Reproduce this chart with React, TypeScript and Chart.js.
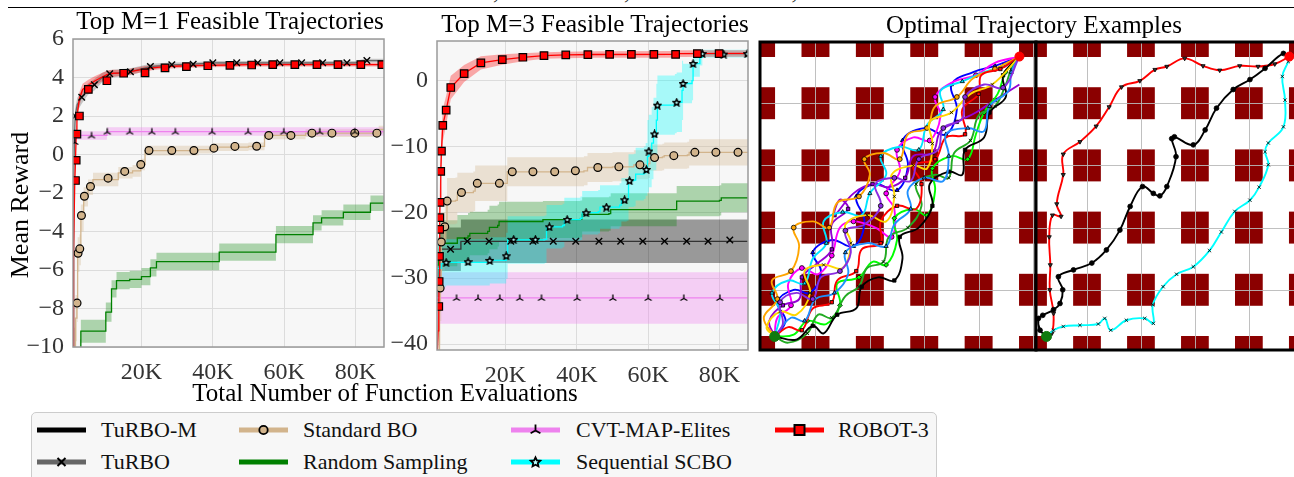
import React, { useEffect, useRef } from "react";
import { Chart, registerables } from "chart.js";

Chart.register(...registerables);

const SERIF = '"Liberation Serif", "Times New Roman", Times, serif';

// ---------- colours ----------
const C_ROBOT = "#ff0000";
const C_TURBO = "#666666";
const C_TURBOM = "#000000";
const C_SBO = "#d2b48c";
const C_RAND = "#008000";
const C_CVT = "#ee82ee";
const C_SCBO = "#00ffff";

// ---------- shared x axis ----------
const X_MIN = 800;
const X_MAX = 88000;
const X_TICKS = [20000, 40000, 60000, 80000];

// ---------- Top M=1 panel ----------
const M1_Y_MIN = -10;
const M1_Y_MAX = 6;
const M1_Y_TICKS = [-10, -8, -6, -4, -2, 0, 2, 4, 6];

const M1_ROBOT_X = [800, 950, 1300, 1500, 1700, 1900, 2600, 3500, 5100, 7000, 10300, 12000, 15000, 21000, 23000, 26600, 32600, 38800, 45000, 50000, 88000];
const M1_ROBOT_Y = [-10.5, -5, -1.35, -0.3, 1.06, 2.0, 2.9, 3.38, 3.6, 3.83, 4.15, 4.22, 4.24, 4.45, 4.5, 4.57, 4.61, 4.63, 4.65, 4.67, 4.67];
const M1_ROBOT_SD = [1, 1, 0.6, 0.5, 0.45, 0.4, 0.35, 0.3, 0.28, 0.25, 0.2, 0.18, 0.15, 0.15, 0.12, 0.12, 0.1, 0.1, 0.1, 0.1, 0.1];
const M1_ROBOT_MX = [1500, 1700, 1900, 2600, 5100, 10300, 15000, 21000, 26600, 32600, 38600, 44800, 50900, 56800, 63000, 69200, 75100, 81500, 87400];
const M1_ROBOT_MY = [-1.35, -0.3, 1.06, 2.0, 3.38, 3.83, 4.22, 4.24, 4.5, 4.57, 4.61, 4.63, 4.65, 4.67, 4.67, 4.67, 4.67, 4.67, 4.67];

const M1_TURBO_X = [800, 1000, 1400, 2000, 3250, 5000, 6800, 9000, 11100, 16900, 22500, 28500, 34500, 40000, 80000, 82500, 88000];
const M1_TURBO_Y = [-10.5, -1, 2.0, 2.6, 2.98, 3.4, 3.62, 4.0, 4.19, 4.3, 4.57, 4.66, 4.69, 4.76, 4.76, 4.88, 4.88];
const M1_TURBO_SD = [1, 0.5, 0.4, 0.35, 0.35, 0.3, 0.3, 0.25, 0.2, 0.18, 0.15, 0.12, 0.1, 0.1, 0.1, 0.1, 0.1];
const M1_TURBO_MX = [1400, 3250, 6800, 11100, 16900, 22500, 28500, 34500, 40000, 46700, 52600, 58800, 64900, 70800, 77600, 83200];
const M1_TURBO_MY = [2.0, 2.98, 3.62, 4.19, 4.3, 4.57, 4.66, 4.69, 4.76, 4.76, 4.76, 4.76, 4.76, 4.76, 4.76, 4.88];

const M1_CVT_X = [800, 1500, 10300, 88000];
const M1_CVT_Y = [0.65, 0.99, 1.19, 1.19];
const M1_CVT_SD = [0.3, 0.22, 0.22, 0.22];
const M1_CVT_MX = [1300, 6000, 10400, 16700, 22900, 29500, 39800, 49900, 59900, 70000, 79800];
const M1_CVT_MY = [0.65, 0.99, 1.19, 1.19, 1.19, 1.19, 1.19, 1.19, 1.19, 1.19, 1.19];

const M1_SBO_X = [900, 1500, 1900, 2100, 2600, 3000, 3800, 5000, 6400, 13500, 17500, 19800, 21000, 36000, 40000, 50000, 54500, 66000, 86500, 88000];
const M1_SBO_Y = [-10.5, -8.5, -7.7, -5.2, -4.95, -3.3, -2.2, -1.7, -1.3, -0.95, -0.85, -0.52, 0.2, 0.25, 0.38, 0.42, 0.99, 1.11, 1.3, 1.3];
const M1_SBO_SD = [1.5, 1.2, 1.0, 0.9, 0.8, 0.7, 0.5, 0.4, 0.35, 0.3, 0.3, 0.3, 0.25, 0.2, 0.2, 0.2, 0.2, 0.2, 0.2, 0.2];
const M1_SBO_MX = [1940, 2220, 2700, 3170, 4000, 5700, 10630, 15300, 19800, 22100, 28500, 34700, 40300, 46200, 52300, 55700, 61900, 67800, 73400, 79800, 86000];
const M1_SBO_MY = [-7.72, -5.13, -4.9, -3.17, -2.17, -1.66, -1.23, -0.88, -0.52, 0.21, 0.21, 0.21, 0.33, 0.42, 0.43, 0.99, 0.99, 1.11, 1.11, 1.11, 1.11];

const M1_RAND_X = [2700, 3000, 10000, 11600, 13000, 16700, 20000, 22500, 24200, 41800, 57700, 68100, 70500, 76600, 84200, 88000];
const M1_RAND_Y = [-10.5, -9.18, -8.19, -6.98, -6.55, -6.49, -6.34, -5.89, -5.56, -5.07, -4.16, -3.55, -3.29, -3.0, -2.53, -2.53];
const M1_RAND_SD = [0.9, 0.6, 0.5, 0.45, 0.45, 0.45, 0.45, 0.45, 0.45, 0.45, 0.45, 0.4, 0.4, 0.4, 0.4, 0.4];

// ---------- Top M=3 panel ----------
const M3_Y_MIN = -40.9;
const M3_Y_MAX = 6;
const M3_Y_TICKS = [-40, -30, -20, -10, 0];

const M3_ROBOT_X = [800, 1100, 1300, 1400, 1500, 1550, 1600, 1650, 1850, 2050, 2420, 3370, 4660, 8410, 13100, 19100, 24870, 30800, 36900, 45000, 67000, 68000, 88000];
const M3_ROBOT_Y = [-42, -38, -34.3, -30.5, -26.7, -22.6, -20.8, -18.5, -13.8, -10.7, -6.8, -4.5, -1.06, 1.06, 2.67, 3.18, 3.53, 3.79, 3.88, 3.95, 3.97, 4.09, 4.1];
const M3_ROBOT_SD = [4, 4, 3.5, 3.5, 3.5, 3.5, 3.5, 3.5, 3.0, 2.8, 2.5, 2.2, 1.8, 1.3, 1.0, 0.8, 0.6, 0.5, 0.5, 0.5, 0.5, 0.5, 0.5];
const M3_ROBOT_MX = [1300, 1400, 1500, 1550, 1600, 1650, 1850, 2050, 2420, 3370, 4660, 8410, 13100, 19100, 24870, 30800, 36900, 43100, 49200, 55300, 61600, 67700, 73800, 79900];
const M3_ROBOT_MY = [-34.3, -30.5, -26.7, -22.6, -20.8, -18.5, -13.8, -10.7, -6.8, -4.5, -1.06, 1.06, 2.67, 3.18, 3.53, 3.79, 3.88, 3.94, 3.96, 3.96, 3.96, 3.96, 4.09, 4.09];

const M3_SCBO_X = [900, 2000, 3300, 15600, 20200, 20600, 31000, 31500, 36000, 36500, 41000, 41500, 46000, 46500, 52000, 52500, 54000, 54500, 56000, 56500, 58800, 59300, 59800, 60200, 61000, 61500, 62300, 62600, 67500, 68000, 69500, 69800, 72300, 72600, 74500, 75200, 88000];
const M3_SCBO_Y = [-28.5, -27.8, -27.6, -27.3, -26.6, -24.2, -24.1, -22.2, -22.0, -21.1, -20.9, -20.06, -19.9, -19.2, -18.9, -18.1, -18.0, -15.2, -15.1, -14.2, -14.0, -13.5, -11.5, -10.7, -9.5, -8.1, -6.0, -3.74, -3.5, -3.3, -1.5, -0.45, 0.0, 2.58, 3.5, 4.09, 4.1];
const M3_SCBO_SD = [3.5, 3.5, 3.5, 3.5, 3.5, 3.6, 3.6, 3.3, 3.3, 3.3, 3.3, 3.3, 3.3, 3.3, 3.3, 3.3, 3.3, 4, 4, 4, 4, 4, 5.5, 5.5, 5.5, 5.5, 5.5, 4.5, 4.5, 4.5, 4.5, 3, 3, 2, 1.2, 0.6, 0.6];
const M3_SCBO_MX = [3370, 9500, 15600, 20200, 22300, 28400, 32300, 37300, 42600, 48300, 53400, 54800, 59500, 60200, 61800, 62600, 68000, 69800, 72600, 75200, 81200, 87800];
const M3_SCBO_MY = [-27.6, -27.5, -27.3, -26.6, -24.1, -24.1, -22.2, -21.1, -20.06, -19.2, -18.1, -15.2, -13.5, -10.7, -8.1, -3.74, -3.3, -0.45, 2.58, 4.09, 4.0, 4.09];

const M3_SBO_X = [800, 1500, 1700, 2000, 3000, 3600, 6000, 6500, 11000, 11500, 20000, 20500, 42000, 43000, 50000, 56000, 60000, 60500, 64000, 64500, 71000, 71500, 88000];
const M3_SBO_Y = [-42, -35, -31.5, -24.5, -22.2, -18.3, -18.2, -17.0, -16.8, -15.6, -15.6, -13.85, -13.7, -13.2, -13.1, -12.8, -12.6, -11.7, -11.6, -11.4, -11.3, -10.9, -10.9];
const M3_SBO_SD = [5, 5, 5, 4.5, 4, 3.5, 3.5, 3, 3, 2.7, 2.7, 2.2, 2.2, 2.2, 2.2, 2.2, 2.2, 2, 2, 2, 2, 2, 2];
const M3_SBO_MX = [1680, 2000, 2980, 3640, 7660, 12100, 18300, 21900, 27700, 33800, 39600, 45900, 51800, 57700, 61800, 67200, 73100, 79000, 85200];
const M3_SBO_MY = [-31.5, -24.5, -22.2, -18.3, -17.0, -15.6, -15.6, -13.85, -13.85, -13.85, -13.7, -13.2, -13.1, -12.8, -11.7, -11.4, -10.9, -10.9, -10.9];

const M3_RAND_X = [900, 1200, 1600, 6000, 6500, 9500, 10000, 15000, 15500, 17800, 18200, 30300, 30500, 41000, 41500, 49000, 49500, 67600, 68000, 80000, 80500, 88000];
const M3_RAND_Y = [-28, -27.2, -24.7, -24.7, -23.9, -23.6, -23.2, -22.9, -22.3, -22.0, -21.4, -21.4, -21.1, -21.0, -20.3, -20.2, -19.6, -19.6, -18.3, -18.2, -17.8, -17.8];
const M3_RAND_SD = [3.5, 3.5, 3.5, 3.5, 3.5, 3.5, 3.3, 3.3, 3.3, 3.2, 3.0, 3.0, 2.8, 2.8, 2.6, 2.6, 2.5, 2.5, 2.3, 2.3, 2.2, 2.2];

const M3_TURBO_X = [800, 1500, 2500, 7000, 7500, 88000];
const M3_TURBO_Y = [-30, -25.6, -25.6, -25.6, -24.4, -24.3];
const M3_TURBO_SD = [3.5, 3.3, 3.3, 3.3, 3.3, 3.3];
const M3_TURBO_MX = [4600, 9300, 15400, 21500, 27700, 33400, 39700, 46200, 52300, 58500, 64600, 70800, 76800, 82900];
const M3_TURBO_MY = [-25.6, -24.4, -24.4, -24.4, -24.4, -24.4, -24.4, -24.4, -24.4, -24.4, -24.4, -24.4, -24.4, -24.2];

const M3_CVT_X = [800, 88000];
const M3_CVT_Y = [-33, -33];
const M3_CVT_SD = [3.9, 3.9];
const M3_CVT_MX = [6270, 12300, 18400, 24000, 30100, 40100, 50100, 60000, 70000, 80100];
const M3_CVT_MY = [-33, -33, -33, -33, -33, -33, -33, -33, -33, -33];

// ---------- trajectory maps ----------
const MAP_Y_MIN = 0.032;
const MAP_Y_MAX = 4.984;
const MAPL_X_MIN = -0.02;
const MAPL_X_MAX = 5.055;
const MAPR_X_MIN = 0.055;
const MAPR_X_MAX = 5.17;
const OBST_COLS = [0, 1, 2, 3, 4, 5, 6];
const OBST_ROWS = [0, 1, 2, 3, 4, 5];
const OBST_HALF = 0.257;
const GRID_LINES = [1, 2, 3, 4, 5, 6];
const START_PT = [0.25, 0.25];
const GOAL_PT = [4.75, 4.75];

const LEFT_TRAJ_COLORS = ["#0000ff", "#ff00ff", "#9400d3", "#00ff00", "#22aa22", "#00e5ff", "#ffa500", "#ff0000", "#000000", "#ffd700", "#1e90ff", "#8a2be2"];
const LEFT_TRAJ_MARKERS = ["triangle", "circle", "rect", "rectRot", "crossRot", "triangle", "circle", "rect", "rect", "crossRot", "triangle", "circle"];
const LEFT_TRAJ = [
  [[0.25, 0.25], [0.45, 0.5], [0.3, 0.8], [0.6, 1.0], [0.9, 0.95], [1.1, 1.3], [0.95, 1.6], [1.3, 1.8], [1.7, 1.7], [1.9, 2.1], [1.75, 2.5], [2.1, 2.7], [2.5, 2.6], [2.7, 3.0], [2.6, 3.4], [3.0, 3.6], [3.4, 3.5], [3.6, 3.9], [3.5, 4.3], [3.9, 4.5], [4.3, 4.6], [4.75, 4.75]],
  [[0.25, 0.25], [0.3, 0.55], [0.55, 0.75], [0.5, 1.1], [0.75, 1.35], [1.05, 1.25], [1.3, 1.55], [1.45, 2.0], [1.7, 2.1], [2.1, 2.0], [2.4, 1.85], [2.45, 2.3], [2.3, 2.55], [2.55, 2.9], [2.5, 3.25], [2.8, 3.45], [3.1, 3.4], [3.3, 3.8], [3.2, 4.1], [3.55, 4.35], [3.95, 4.45], [4.3, 4.65], [4.75, 4.75]],
  [[0.25, 0.25], [0.15, 0.5], [0.4, 0.75], [0.7, 0.85], [0.75, 1.2], [1.0, 1.4], [1.3, 1.65], [1.3, 2.05], [1.6, 2.3], [1.45, 2.45], [1.35, 2.2], [1.7, 2.55], [2.05, 2.7], [2.35, 2.65], [2.65, 2.8], [2.8, 3.15], [3.15, 3.2], [3.3, 3.55], [3.6, 3.7], [3.95, 3.85], [4.3, 4.05], [4.75, 4.3]],
  [[0.25, 0.25], [0.6, 0.28], [0.85, 0.5], [1.2, 0.45], [1.45, 0.75], [1.4, 1.1], [1.8, 1.2], [2.05, 1.45], [2.3, 1.4], [2.5, 1.8], [2.45, 2.15], [2.8, 2.3], [3.05, 2.2], [3.2, 2.6], [3.15, 2.95], [3.5, 3.15], [3.8, 3.1], [3.95, 3.5], [4.1, 3.85], [4.35, 4.15], [4.5, 4.5], [4.75, 4.75]],
  [[0.25, 0.25], [0.5, 0.15], [0.85, 0.3], [1.05, 0.6], [1.3, 0.55], [1.55, 0.9], [1.8, 1.05], [1.95, 1.35], [2.25, 1.45], [2.35, 1.85], [2.7, 2.0], [2.95, 2.35], [2.85, 2.7], [3.2, 2.85], [3.45, 2.8], [3.55, 3.2], [3.85, 3.4], [4.0, 3.8], [4.3, 3.95], [4.5, 4.3], [4.6, 4.55], [4.75, 4.75]],
  [[0.25, 0.25], [0.35, 0.65], [0.2, 0.95], [0.5, 1.15], [0.8, 1.1], [0.95, 1.5], [1.2, 1.75], [1.15, 2.1], [1.5, 2.25], [1.85, 2.2], [2.0, 2.55], [2.3, 2.85], [2.2, 3.15], [2.55, 3.3], [2.9, 3.25], [3.05, 3.65], [3.35, 3.9], [3.3, 4.2], [3.7, 4.35], [4.1, 4.5], [4.45, 4.6], [4.75, 4.75]],
  [[0.25, 0.25], [0.05, 0.55], [0.3, 0.85], [0.2, 1.15], [0.55, 1.3], [0.7, 1.7], [0.6, 2.0], [0.95, 2.1], [1.25, 2.0], [1.4, 2.4], [1.8, 2.5], [2.0, 2.85], [1.9, 3.1], [2.25, 3.2], [2.55, 3.1], [2.7, 3.5], [3.05, 3.6], [3.2, 3.95], [3.6, 4.1], [3.9, 4.4], [4.3, 4.55], [4.75, 4.75]],
  [[0.25, 0.25], [0.5, 0.4], [0.75, 0.35], [0.95, 0.7], [1.3, 0.8], [1.4, 1.15], [1.75, 1.3], [1.85, 1.65], [2.2, 1.75], [2.2, 2.1], [2.5, 2.35], [2.85, 2.3], [2.95, 2.7], [2.8, 3.0], [3.2, 3.1], [3.4, 3.45], [3.75, 3.5], [3.7, 3.9], [4.0, 4.15], [4.05, 4.45], [4.4, 4.55], [4.75, 4.75]],
  [[0.25, 0.25], [0.65, 0.2], [0.95, 0.42], [1.15, 0.3], [1.4, 0.6], [1.75, 0.7], [1.85, 1.05], [2.15, 1.2], [2.45, 1.15], [2.6, 1.5], [2.55, 1.85], [2.9, 2.0], [3.15, 2.35], [3.1, 2.7], [3.45, 2.9], [3.7, 2.85], [3.75, 3.25], [4.1, 3.45], [4.2, 3.85], [4.5, 4.1], [4.45, 4.45], [4.75, 4.75]],
  [[0.25, 0.25], [0.1, 0.4], [0.35, 0.65], [0.65, 0.6], [0.9, 0.95], [0.8, 1.3], [1.15, 1.4], [1.5, 1.35], [1.65, 1.75], [1.55, 2.05], [1.95, 2.2], [2.3, 2.1], [2.45, 2.5], [2.4, 2.85], [2.8, 3.0], [3.05, 2.95], [3.15, 3.35], [3.1, 3.7], [3.5, 3.85], [3.85, 4.15], [4.25, 4.3], [4.75, 4.75]],
  [[0.25, 0.25], [0.55, 0.55], [0.8, 0.5], [1.0, 0.85], [1.35, 0.95], [1.6, 1.25], [1.55, 1.6], [1.95, 1.75], [2.3, 1.7], [2.45, 2.05], [2.75, 2.3], [2.7, 2.6], [3.0, 2.8], [3.35, 2.75], [3.45, 3.15], [3.4, 3.5], [3.8, 3.6], [4.1, 3.55], [4.2, 3.95], [4.55, 4.2], [4.6, 4.5], [4.75, 4.75]],
  [[0.25, 0.25], [0.4, 0.45], [0.35, 0.8], [0.65, 0.95], [0.95, 0.85], [1.1, 1.2], [1.45, 1.3], [1.65, 1.6], [1.55, 1.95], [1.9, 2.05], [2.2, 2.35], [2.1, 2.7], [2.45, 2.8], [2.75, 2.75], [2.9, 3.1], [3.25, 3.25], [3.35, 3.6], [3.7, 3.75], [3.75, 4.1], [4.1, 4.3], [4.45, 4.25], [4.75, 4.75]],
];

const RIGHT_RED = [[0.25, 0.25], [0.35, 0.3], [0.38, 0.62], [0.31, 1.0], [0.32, 1.4], [0.3, 1.85], [0.36, 2.2], [0.52, 2.18], [0.44, 2.38], [0.56, 2.85], [0.56, 3.18], [0.87, 3.38], [1.17, 3.63], [1.41, 3.94], [1.64, 4.26], [1.98, 4.36], [2.26, 4.54], [2.48, 4.59], [2.81, 4.72], [3.15, 4.6], [3.46, 4.53], [3.83, 4.6], [4.17, 4.59], [4.48, 4.63], [4.75, 4.75]];
const RIGHT_BLACK = [[0.25, 0.25], [0.13, 0.35], [0.1, 0.54], [0.18, 0.59], [0.38, 0.68], [0.5, 0.78], [0.55, 1.0], [0.47, 1.21], [0.75, 1.32], [1.09, 1.43], [1.36, 1.64], [1.61, 1.96], [1.8, 2.34], [2.03, 2.66], [2.23, 2.55], [2.35, 2.51], [2.48, 2.66], [2.65, 3.14], [2.57, 3.43], [2.62, 3.46], [2.97, 3.33], [3.19, 3.57], [3.4, 3.92], [3.71, 4.22], [4.02, 4.38], [4.3, 4.56], [4.64, 4.8], [4.75, 4.75]];
const RIGHT_CYAN = [[0.25, 0.25], [0.38, 0.35], [0.56, 0.41], [0.87, 0.43], [1.21, 0.45], [1.33, 0.54], [1.44, 0.35], [1.73, 0.51], [2.07, 0.54], [2.23, 0.46], [2.22, 0.76], [2.41, 1.05], [2.66, 1.25], [2.97, 1.37], [3.27, 1.63], [3.49, 1.93], [3.74, 2.26], [4.02, 2.44], [4.19, 2.65], [4.36, 3.01], [4.3, 3.22], [4.36, 3.36], [4.64, 3.62], [4.67, 4.05], [4.62, 4.43], [4.73, 4.67], [4.75, 4.75]];

// ---------- legend ----------
const LEGEND_LABELS = ["TuRBO-M", "TuRBO", "Standard BO", "Random Sampling", "CVT-MAP-Elites", "Sequential SCBO", "ROBOT-3"];
const LEGEND_COLORS = [C_TURBOM, C_TURBO, C_SBO, C_RAND, C_CVT, C_SCBO, C_ROBOT];
const LEGEND_MARKERS = ["", "x", "o", "", "tri", "star", "s"];
const LEGEND_COL = [0, 0, 1, 1, 2, 2, 3];
const LEGEND_ROW = [0, 1, 0, 1, 0, 1, 0];
const LEGEND_SAMPLE_X = [37, 239, 511, 775];
const LEGEND_TEXT_X = [101, 303, 576, 838];
const LEGEND_ROW_Y = [430, 462];

// ---------- helpers ----------
function fmtNum(v: number) {
  return v < 0 ? "\u2212" + Math.abs(v) : String(v);
}

function starPts(cx: number, cy: number, ro: number, ri: number) {
  const pts: number[][] = [];
  for (let k = 0; k < 10; k++) {
    const r = k % 2 === 0 ? ro : ri;
    const a = -Math.PI / 2 + (k * Math.PI) / 5;
    pts.push([cx + r * Math.cos(a), cy + r * Math.sin(a)]);
  }
  return pts;
}

function makeTri(size: number) {
  const c = document.createElement("canvas");
  c.width = size;
  c.height = size;
  const g = c.getContext("2d")!;
  const cx = size / 2, cy = size / 2 + 0.5, r = size / 2 - 1;
  g.strokeStyle = "#000";
  g.lineWidth = 1.3;
  g.beginPath();
  g.moveTo(cx, cy); g.lineTo(cx, cy - r);
  g.moveTo(cx, cy); g.lineTo(cx - r * 0.866, cy + r * 0.5);
  g.moveTo(cx, cy); g.lineTo(cx + r * 0.866, cy + r * 0.5);
  g.stroke();
  return c;
}

function makeStar(size: number, fill: string) {
  const c = document.createElement("canvas");
  c.width = size;
  c.height = size;
  const g = c.getContext("2d")!;
  const pts = starPts(size / 2, size / 2 + 0.4, size / 2 - 1, (size / 2 - 1) * 0.5);
  g.beginPath();
  pts.forEach((p, i) => (i === 0 ? g.moveTo(p[0], p[1]) : g.lineTo(p[0], p[1])));
  g.closePath();
  g.fillStyle = fill;
  g.fill();
  g.strokeStyle = "#000";
  g.lineWidth = 1.6;
  g.stroke();
  return c;
}

type Series = {
  x: number[]; y: number[]; sd: number[];
  mx?: number[]; my?: number[];
  color: string; band: string; marker?: string; mfill?: string;
  stepped: boolean; lw?: number;
};

function panelDatasets(list: Series[]) {
  const tri = makeTri(10);
  const star = makeStar(9, "#bff");
  const ds: any[] = [];
  list.forEach((s, i) => {
    const st = s.stepped ? "before" : false;
    ds.push({ data: s.x.map((v, j) => ({ x: v, y: s.y[j] - s.sd[j] })), borderColor: "transparent", borderWidth: 0, pointRadius: 0, stepped: st, fill: false, order: 300 - i });
    ds.push({ data: s.x.map((v, j) => ({ x: v, y: s.y[j] + s.sd[j] })), borderColor: "transparent", borderWidth: 0, pointRadius: 0, stepped: st, fill: "-1", backgroundColor: s.band, order: 300 - i });
    ds.push({ data: s.x.map((v, j) => ({ x: v, y: s.y[j] })), borderColor: s.color, borderWidth: s.lw ?? 1.3, pointRadius: 0, stepped: st, fill: false, order: 150 - i });
    if (s.mx && s.my && s.marker) {
      let style: any = s.marker, radius = 4, bw = 1.2;
      if (s.marker === "rect") { radius = 5.3; }
      if (s.marker === "circle") { radius = 3.9; }
      if (s.marker === "crossRot") { radius = 4.6; bw = 1.4; }
      if (s.marker === "tri") { style = tri; radius = 4; }
      if (s.marker === "star") { style = star; radius = 4; }
      ds.push({
        data: s.mx.map((v, j) => ({ x: v, y: s.my![j] })),
        showLine: false, fill: false, pointStyle: style, pointRadius: radius,
        pointBackgroundColor: s.mfill ?? s.color, pointBorderColor: "#000", pointBorderWidth: bw,
        order: 50 - i,
      });
    }
  });
  return ds;
}

const panelPlugin = {
  id: "panelDeco",
  beforeDraw(chart: any) {
    const { ctx, chartArea: a } = chart;
    ctx.save();
    ctx.fillStyle = "#f7f7f7";
    ctx.fillRect(a.left, a.top, a.right - a.left, a.bottom - a.top);
    ctx.restore();
  },
  afterDatasetsDraw(chart: any) {
    const { ctx, chartArea: a } = chart;
    ctx.save();
    ctx.strokeStyle = "#9a9a9a";
    ctx.lineWidth = 1.5;
    ctx.strokeRect(a.left, a.top, a.right - a.left, a.bottom - a.top);
    ctx.restore();
  },
};

function panelConfig(series: Series[], yMin: number, yMax: number, yTicks: number[], yWidth: number, pad: any) {
  return {
    type: "line",
    data: { datasets: panelDatasets(series) },
    plugins: [panelPlugin],
    options: {
      responsive: false,
      animation: false,
      events: [],
      layout: { padding: pad },
      plugins: { legend: { display: false }, tooltip: { enabled: false } },
      scales: {
        x: {
          type: "linear", min: X_MIN, max: X_MAX,
          afterBuildTicks: (s: any) => { s.ticks = X_TICKS.map((v) => ({ value: v })); },
          afterFit: (s: any) => { s.height = 38; },
          ticks: { callback: (v: any) => `${Math.round(Number(v) / 1000)}K`, font: { family: SERIF, size: 24 }, color: "#333", padding: 11, maxRotation: 0, autoSkip: false },
          grid: { color: "#dcdcdc", lineWidth: 1, drawTicks: false },
          border: { display: false },
        },
        y: {
          type: "linear", min: yMin, max: yMax,
          afterBuildTicks: (s: any) => { s.ticks = yTicks.map((v) => ({ value: v })); },
          afterFit: (s: any) => { s.width = yWidth; },
          ticks: { callback: (v: any) => fmtNum(Number(v)), font: { family: SERIF, size: 24 }, color: "#333", padding: 9, autoSkip: false },
          grid: { color: "#dcdcdc", lineWidth: 1, drawTicks: false },
          border: { display: false },
        },
      },
    },
  };
}

const mapPlugin = {
  id: "mapDeco",
  beforeDatasetsDraw(chart: any) {
    const { ctx, chartArea: a, scales } = chart;
    const sx = scales.x, sy = scales.y;
    ctx.save();
    ctx.beginPath();
    ctx.rect(a.left, a.top, a.right - a.left, a.bottom - a.top);
    ctx.clip();
    ctx.fillStyle = "#ffffff";
    ctx.fillRect(a.left, a.top, a.right - a.left, a.bottom - a.top);
    ctx.fillStyle = "#8b0000";
    for (const cx of OBST_COLS) {
      for (const cy of OBST_ROWS) {
        const x0 = sx.getPixelForValue(cx - OBST_HALF), x1 = sx.getPixelForValue(cx + OBST_HALF);
        const y0 = sy.getPixelForValue(cy + OBST_HALF), y1 = sy.getPixelForValue(cy - OBST_HALF);
        ctx.fillRect(x0, y0, x1 - x0, y1 - y0);
      }
    }
    ctx.strokeStyle = "rgba(185,185,185,0.9)";
    ctx.lineWidth = 1;
    for (const gv of GRID_LINES) {
      const px = Math.round(sx.getPixelForValue(gv)) + 0.5;
      const py = Math.round(sy.getPixelForValue(gv)) + 0.5;
      ctx.beginPath(); ctx.moveTo(px, a.top); ctx.lineTo(px, a.bottom); ctx.stroke();
      ctx.beginPath(); ctx.moveTo(a.left, py); ctx.lineTo(a.right, py); ctx.stroke();
    }
    ctx.restore();
  },
  afterDatasetsDraw(chart: any) {
    const { ctx, chartArea: a } = chart;
    ctx.save();
    ctx.strokeStyle = "#000";
    ctx.lineWidth = 3;
    ctx.strokeRect(a.left, a.top, a.right - a.left, a.bottom - a.top);
    ctx.restore();
  },
};

function trajDataset(pts: number[][], color: string, marker: string, every: number, rot: number, mfill: string, order: number) {
  const n = pts.length;
  return {
    data: pts.map((p) => ({ x: p[0], y: p[1] })),
    borderColor: color, borderWidth: 1.9, tension: 0.4, fill: false,
    pointStyle: marker, pointRotation: rot,
    pointRadius: (c: any) => (c.dataIndex > 0 && c.dataIndex < n - 1 && c.dataIndex % every === 0 ? 2.4 : 0),
    pointBackgroundColor: mfill, pointBorderColor: "#000", pointBorderWidth: 0.8,
    order,
  };
}

function endpointDatasets() {
  return [
    { data: [{ x: START_PT[0], y: START_PT[1] }], showLine: false, pointRadius: 5, pointBackgroundColor: "#0f7a0f", pointBorderColor: "#0f7a0f", order: 0 },
    { data: [{ x: GOAL_PT[0], y: GOAL_PT[1] }], showLine: false, pointRadius: 4.5, pointBackgroundColor: "#ff0000", pointBorderColor: "#ff0000", order: 0 },
  ];
}

function mapConfig(datasets: any[], xMin: number, xMax: number, pad: any) {
  return {
    type: "line",
    data: { datasets: [...datasets, ...endpointDatasets()] },
    plugins: [mapPlugin],
    options: {
      responsive: false,
      animation: false,
      events: [],
      layout: { padding: pad },
      plugins: { legend: { display: false }, tooltip: { enabled: false } },
      scales: {
        x: { type: "linear", min: xMin, max: xMax, display: false },
        y: { type: "linear", min: MAP_Y_MIN, max: MAP_Y_MAX, display: false },
      },
    },
  };
}

// ---------- configs ----------
function buildM1() {
  const series: Series[] = [
    { x: M1_RAND_X, y: M1_RAND_Y, sd: M1_RAND_SD, color: C_RAND, band: "rgba(0,128,0,0.3)", stepped: true },
    { x: M1_SBO_X, y: M1_SBO_Y, sd: M1_SBO_SD, mx: M1_SBO_MX, my: M1_SBO_MY, color: C_SBO, band: "rgba(210,180,140,0.35)", marker: "circle", mfill: C_SBO, stepped: true },
    { x: M1_CVT_X, y: M1_CVT_Y, sd: M1_CVT_SD, mx: M1_CVT_MX, my: M1_CVT_MY, color: C_CVT, band: "rgba(238,130,238,0.35)", marker: "tri", stepped: true },
    { x: M1_TURBO_X, y: M1_TURBO_Y, sd: M1_TURBO_SD, mx: M1_TURBO_MX, my: M1_TURBO_MY, color: C_TURBO, band: "rgba(0,0,0,0.2)", marker: "crossRot", stepped: false },
    { x: M1_ROBOT_X, y: M1_ROBOT_Y, sd: M1_ROBOT_SD, mx: M1_ROBOT_MX, my: M1_ROBOT_MY, color: C_ROBOT, band: "rgba(255,0,0,0.32)", marker: "rect", mfill: C_ROBOT, stepped: false },
  ];
  return panelConfig(series, M1_Y_MIN, M1_Y_MAX, M1_Y_TICKS, 73, { left: 0, top: 39, right: 11, bottom: 0 });
}

function buildM3() {
  const series: Series[] = [
    { x: M3_CVT_X, y: M3_CVT_Y, sd: M3_CVT_SD, mx: M3_CVT_MX, my: M3_CVT_MY, color: C_CVT, band: "rgba(238,130,238,0.35)", marker: "tri", stepped: true },
    { x: M3_TURBO_X, y: M3_TURBO_Y, sd: M3_TURBO_SD, mx: M3_TURBO_MX, my: M3_TURBO_MY, color: "#333333", band: "rgba(0,0,0,0.38)", marker: "crossRot", stepped: true },
    { x: M3_RAND_X, y: M3_RAND_Y, sd: M3_RAND_SD, color: C_RAND, band: "rgba(0,128,0,0.3)", stepped: true },
    { x: M3_SBO_X, y: M3_SBO_Y, sd: M3_SBO_SD, mx: M3_SBO_MX, my: M3_SBO_MY, color: C_SBO, band: "rgba(210,180,140,0.35)", marker: "circle", mfill: C_SBO, stepped: true },
    { x: M3_SCBO_X, y: M3_SCBO_Y, sd: M3_SCBO_SD, mx: M3_SCBO_MX, my: M3_SCBO_MY, color: C_SCBO, band: "rgba(0,255,255,0.32)", marker: "star", stepped: true },
    { x: M3_ROBOT_X, y: M3_ROBOT_Y, sd: M3_ROBOT_SD, mx: M3_ROBOT_MX, my: M3_ROBOT_MY, color: C_ROBOT, band: "rgba(255,0,0,0.32)", marker: "rect", mfill: C_ROBOT, stepped: false },
  ];
  return panelConfig(series, M3_Y_MIN, M3_Y_MAX, M3_Y_TICKS, 57, { left: 0, top: 41, right: 7, bottom: 0 });
}

function buildMapL() {
  const ds = LEFT_TRAJ.map((pts, i) => trajDataset(pts, LEFT_TRAJ_COLORS[i], LEFT_TRAJ_MARKERS[i], 2, 0, LEFT_TRAJ_COLORS[i], 20 - i));
  return mapConfig(ds, MAPL_X_MIN, MAPL_X_MAX, { left: 10, top: 42, right: 10, bottom: 12 });
}

function buildMapR() {
  const ds = [
    trajDataset(RIGHT_RED, "#ff0000", "triangle", 1, 180, "#333", 5),
    trajDataset(RIGHT_BLACK, "#000000", "circle", 1, 0, "#000", 4),
    trajDataset(RIGHT_CYAN, "#00ffff", "crossRot", 1, 0, "#000", 3),
  ];
  return mapConfig(ds, MAPR_X_MIN, MAPR_X_MAX, { left: 10, top: 42, right: 14, bottom: 12 });
}

// ---------- components ----------
function ChartBox(props: { left: number; top: number; width: number; height: number; build: () => any }) {
  const ref = useRef<HTMLCanvasElement>(null);
  useEffect(() => {
    const chart = new Chart(ref.current as HTMLCanvasElement, props.build());
    return () => chart.destroy();
  }, []);
  return (
    <canvas
      ref={ref}
      width={props.width}
      height={props.height}
      style={{ position: "absolute", left: props.left, top: props.top, width: props.width, height: props.height }}
    />
  );
}

function LegendSample(props: { color: string; marker: string }) {
  const m = props.marker;
  const star = starPts(24.5, 10.3, 5, 2.4).map((p) => p.join(",")).join(" ");
  return (
    <svg width={49} height={20} style={{ position: "absolute", left: 0, top: 0 }}>
      <line x1={0} y1={10} x2={49} y2={10} stroke={props.color} strokeWidth={5} />
      {m === "x" && <path d="M20.5 6 L28.5 14 M28.5 6 L20.5 14" stroke="#000" strokeWidth={2} />}
      {m === "o" && <circle cx={24.5} cy={10} r={4.2} fill={C_SBO} stroke="#000" strokeWidth={1.8} />}
      {m === "tri" && <path d="M24.5 10.5 V4.5 M24.5 10.5 L19.6 13.3 M24.5 10.5 L29.4 13.3" stroke="#000" strokeWidth={1.8} fill="none" />}
      {m === "star" && <polygon points={star} fill="#bff" stroke="#000" strokeWidth={1.8} />}
      {m === "s" && <rect x={19.5} y={5} width={10} height={10} fill={C_ROBOT} stroke="#000" strokeWidth={2} />}
    </svg>
  );
}

const textBase: React.CSSProperties = { position: "absolute", fontFamily: SERIF, color: "#000", whiteSpace: "nowrap" };

export default function App() {
  return (
    <div style={{ position: "absolute", left: 0, top: 0, width: 1294, height: 477, overflow: "hidden", background: "#fff" }}>
      <div style={{ ...textBase, left: 254, width: 800, top: -22, fontSize: 25, lineHeight: "25px", textAlign: "center", color: "#222" }}>
        Natalie Maus, Kaiwen Wu, David Eriksson, Jacob Gardner
      </div>
      <div style={{ position: "absolute", left: 8, top: 7, width: 1290, height: 1, background: "#000" }} />

      <ChartBox left={0} top={0} width={395} height={385} build={buildM1} />
      <ChartBox left={380} top={0} width={375} height={388} build={buildM3} />
      <ChartBox left={750} top={0} width={296} height={362} build={buildMapL} />
      <ChartBox left={1026} top={0} width={300} height={362} build={buildMapR} />

      <div style={{ ...textBase, left: 30, width: 400, top: 7.6, fontSize: 25, lineHeight: "25px", textAlign: "center" }}>Top M=1 Feasible Trajectories</div>
      <div style={{ ...textBase, left: 395, width: 400, top: 10.8, fontSize: 25, lineHeight: "25px", textAlign: "center" }}>Top M=3 Feasible Trajectories</div>
      <div style={{ ...textBase, left: 834, width: 400, top: 12, fontSize: 25, lineHeight: "25px", textAlign: "center" }}>Optimal Trajectory Examples</div>
      <div style={{ ...textBase, left: 185, width: 400, top: 380.4, fontSize: 25, lineHeight: "25px", textAlign: "center" }}>Total Number of Function Evaluations</div>
      <div style={{ ...textBase, left: -80, top: 192, width: 200, height: 26, fontSize: 26, lineHeight: "26px", textAlign: "center", transform: "rotate(-90deg)" }}>Mean Reward</div>

      <div style={{ position: "absolute", left: 31, top: 412, width: 906, height: 80, boxSizing: "border-box", border: "1.5px solid #cccccc", borderRadius: 5, background: "#f7f7f7" }} />
      {LEGEND_LABELS.map((lab, i) => {
        const cy = LEGEND_ROW_Y[LEGEND_ROW[i]];
        return (
          <React.Fragment key={lab}>
            <div style={{ position: "absolute", left: LEGEND_SAMPLE_X[LEGEND_COL[i]], top: cy - 10, width: 49, height: 20 }}>
              <LegendSample color={LEGEND_COLORS[i]} marker={LEGEND_MARKERS[i]} />
            </div>
            <div style={{ ...textBase, left: LEGEND_TEXT_X[LEGEND_COL[i]], top: cy - 11, fontSize: 22, lineHeight: "22px", color: "#111" }}>{lab}</div>
          </React.Fragment>
        );
      })}
    </div>
  );
}
